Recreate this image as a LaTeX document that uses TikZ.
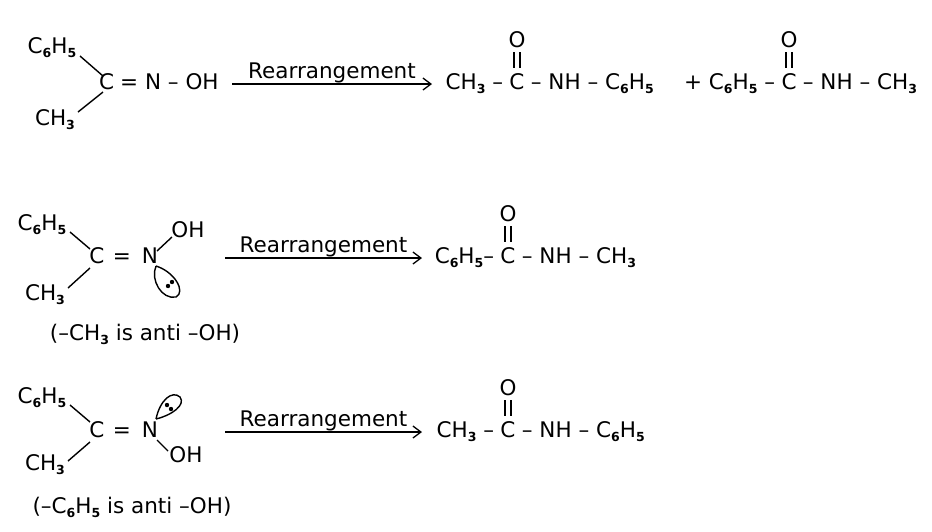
\documentclass[tikz,border=0pt]{standalone}
\usepackage{fontspec}
\setmainfont{DejaVu Sans}
\usetikzlibrary{arrows.meta}
\newcommand{\subn}[1]{\raisebox{-0.35ex}{\fontsize{12.5}{13}\selectfont\bfseries #1}}
\begin{document}
\begin{tikzpicture}[x=1pt,y=-1pt,
  t/.style={inner sep=1pt,text height=16pt,text depth=5pt,font=\fontsize{21.5}{24}\selectfont},
  cc/.style={t,inner xsep=5pt},
  bond/.style={line width=1.4pt},
  arr/.style={line width=1.3pt,-{Straight Barb[length=8pt,width=12pt]}}]
\useasboundingbox (0,0) rectangle (932,531);
% ---- row 1
\node[t] (r1c6) at (52,48) {C\subn6H\subn5};
\node[t] (r1ch) at (55,120) {CH\subn3};
\node[t,anchor=west] (r1c) at (98,84) {C};
\node[t,anchor=west] (r1rest) at (r1c.east) {\,= N – OH};
\draw[bond] (80,56) -- (103,76);
\draw[bond] (78,112) -- (103,92);
\coordinate (a1s) at (232,84); \coordinate (a1e) at (432,84);
\draw[arr] (a1s) -- node[t,above,yshift=-1pt] (r1lab) {Rearrangement} (a1e);
\node[cc] (p1c) at (517,84) {C};
\node[t,anchor=east] (p1l) at (p1c.west) {CH\subn3 –};
\node[t,anchor=west] (p1r) at (p1c.east) {– NH – C\subn6H\subn5};
\node[t] (p1o) at (517,42) {O};
\draw[bond] (514,52) -- (514,68); \draw[bond] (520,52) -- (520,68);
\node[cc] (p2c) at (789,84) {C};
\node[t,anchor=east] (p2l) at (p2c.west) {+ C\subn6H\subn5 –};
\node[t,anchor=west] (p2r) at (p2c.east) {– NH – CH\subn3};
\node[t] (p2o) at (789,42) {O};
\draw[bond] (786,52) -- (786,68); \draw[bond] (792,52) -- (792,68);
% ---- row 2
\node[t] (r2c6) at (42,225) {C\subn6H\subn5};
\node[t] (r2ch) at (45,295) {CH\subn3};
\node[t] (r2c) at (97,258) {C};
\node[t] (r2eq) at (122,258) {=};
\node[t] (r2n) at (150,258) {N};
\node[t] (r2oh) at (188,232) {OH};
\draw[bond] (70,232) -- (90,249);
\draw[bond] (68,288) -- (90,268);
\draw[bond] (157,251) -- (172,237);
\draw[bond] (156,266) .. controls (150,280) and (162,300) .. (176,297)
  .. controls (186,292) and (175,272) .. (156,266);
\fill (168,286) circle (2.2pt); \fill (172,282) circle (2.2pt);
\draw[arr] (225,258) -- node[t,above,yshift=-1pt] (r2lab) {Rearrangement} (422,258);
\node[cc] (p3c) at (508,258) {C};
\node[t,anchor=east] (p3l) at (p3c.west) {C\subn6H\subn5–};
\node[t,anchor=west] (p3r) at (p3c.east) {– NH – CH\subn3};
\node[t] (p3o) at (508,216) {O};
\draw[bond] (505,226) -- (505,242); \draw[bond] (511,226) -- (511,242);
\node[t] (n2) at (145,335) {(–CH\subn3 is anti –OH)};
% ---- row 3
\node[t] (r3c6) at (42,398) {C\subn6H\subn5};
\node[t] (r3ch) at (45,465) {CH\subn3};
\node[t] (r3c) at (97,432) {C};
\node[t] (r3eq) at (122,432) {=};
\node[t] (r3n) at (150,432) {N};
\node[t] (r3oh) at (186,457) {OH};
\draw[bond] (70,405) -- (90,422);
\draw[bond] (68,461) -- (90,442);
\draw[bond] (157,440) -- (168,451);
\draw[bond] (156,419) .. controls (160,400) and (172,390) .. (180,397)
  .. controls (186,405) and (172,415) .. (156,419);
\fill (167,405) circle (2.2pt); \fill (171,409) circle (2.2pt);
\draw[arr] (225,432) -- node[t,above,yshift=-1pt] (r3lab) {Rearrangement} (422,432);
\node[cc] (p4c) at (508,432) {C};
\node[t,anchor=east] (p4l) at (p4c.west) {CH\subn3 –};
\node[t,anchor=west] (p4r) at (p4c.east) {– NH – C\subn6H\subn5};
\node[t] (p4o) at (508,390) {O};
\draw[bond] (505,400) -- (505,416); \draw[bond] (511,400) -- (511,416);
\node[t] (n3) at (132,508) {(–C\subn6H\subn5 is anti –OH)};
\end{tikzpicture}
\end{document}
